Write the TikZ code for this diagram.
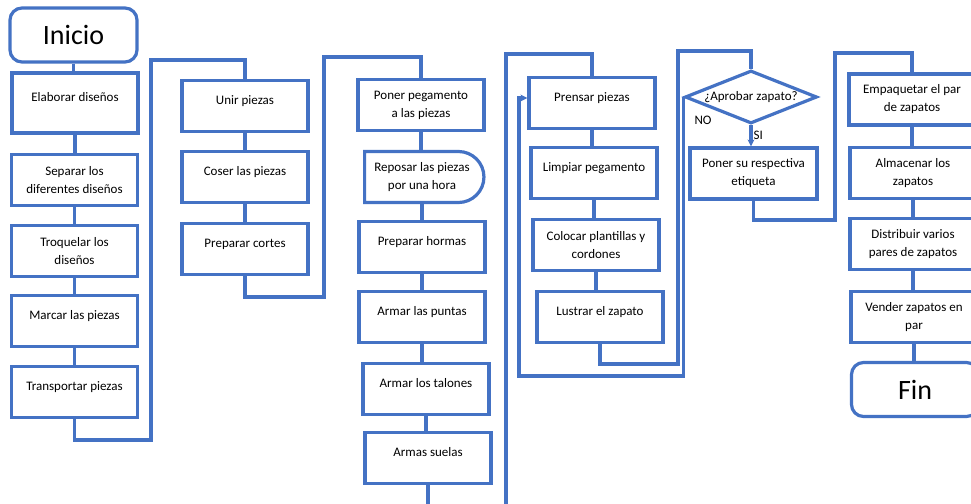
\documentclass[tikz,border=0pt]{standalone}
\usepackage{fontspec}
\setmainfont{Carlito}
\usepackage{xcolor}
\usepackage{tikz}
\usetikzlibrary{shapes,arrows.meta,positioning,calc}

\definecolor{lineblue}{RGB}{68,114,196}

\begin{document}
\begin{tikzpicture}[x=1pt, y=-1pt,
    box/.style={draw=lineblue, line width=3.2pt, fill=white, minimum width=126pt, minimum height=51pt, align=center, font=\fontsize{13}{18}\selectfont},
    oneline/.style={text depth=12pt},
    term/.style={box, rounded corners=12pt, minimum width=127pt, minimum height=54pt, font=\fontsize{28}{30}\selectfont},
    delay/.style={box, rounded rectangle, rounded rectangle left arc=none},
    decision/.style={draw=lineblue, line width=3.2pt, fill=white, diamond, aspect=2.5, inner sep=0pt, minimum width=132pt, minimum height=53pt, font=\fontsize{13}{15}\selectfont},
    lbl/.style={inner sep=1pt, font=\fontsize{13}{15}\selectfont},
    link/.style={draw=lineblue, line width=3.2pt},
    arrow/.style={link, -{Stealth[length=7pt,width=7pt]}}
]
    \useasboundingbox[fill=white] (0,0) rectangle (971,503);

    % Column 1
    \node[term] (ini) at (73.5,35) {Inicio};
    \node[box, oneline, minimum height=60pt] (e1) at (75,103) {Elaborar diseños};
    \node[box] (e2) at (74.5,180) {Separar los\\diferentes diseños};
    \node[box] (e3) at (74.5,251) {Troquelar los\\diseños};
    \node[box, oneline] (e4) at (74.5,321) {Marcar las piezas};
    \node[box, oneline] (e5) at (74.5,392) {Transportar piezas};

    % Column 2
    \node[box, oneline] (u1) at (245,106) {Unir piezas};
    \node[box, oneline] (u2) at (245,177) {Coser las piezas};
    \node[box, oneline] (u3) at (245,249) {Preparar cortes};

    % Column 3
    \node[box] (p1) at (421,105) {Poner pegamento\\a las piezas};
    \node[delay] (p2) at (422,177) {Reposar las piezas\\por una hora};
    \node[box, oneline] (p3) at (422,247) {Preparar hormas};
    \node[box, oneline] (p4) at (422,317) {Armar las puntas};
    \node[box, oneline] (p5) at (426,389) {Armar los talones};
    \node[box, oneline] (p6) at (428,458) {Armas suelas};

    % Column 4
    \node[box, oneline] (q1) at (592,103) {Prensar piezas};
    \node[box, oneline] (q2) at (594,173) {Limpiar pegamento};
    \node[box] (q3) at (596,245) {Colocar plantillas y\\cordones};
    \node[box, oneline] (q4) at (600,317) {Lustrar el zapato};

    % Column 5 (decision)
    \node[decision] (d) at (751,97) {¿Aprobar zapato?};
    \node[box, minimum width=127pt] (et) at (753.5,173.5) {Poner su respectiva\\etiqueta};
    \node[lbl] (no) at (703,120) {NO};

    % Column 6
    \node[box] (z1) at (912,99.5) {Empaquetar el par\\de zapatos};
    \node[box] (z2) at (913,173) {Almacenar los\\zapatos};
    \node[box] (z3) at (913,244) {Distribuir varios\\pares de zapatos};
    \node[box] (z4) at (914,317) {Vender zapatos en\\par};
    \node[term] (fin) at (915,389.5) {Fin};

    % Links inside each column
    \foreach \a/\b in {ini/e1, e1/e2, e2/e3, e3/e4, e4/e5, u1/u2, u2/u3, p1/p2, p2/p3, p3/p4, p4/p5, p5/p6, q1/q2, q2/q3, q3/q4, z1/z2, z2/z3, z3/z4, z4/fin}
        \draw[link] (\a.south) -- (\a.south |- \b.north);

    % Jumps between columns
    \draw[link] (e5.south) |- (151,440) -- (151,60) -| (u1.north);
    \draw[link] (u3.south) |- (324,297) -- (324,57) -| (p1.north);
    \draw[link] (p6.south) |- (506,510) -- (506,54) -| (q1.north);
    \draw[link] (q4.south) |- (678,364) -- (678,51) -| (d.north);
    \draw[link] (et.south) |- (835,220) -- (835,53) -| (z1.north);

    % Decision outputs
    \draw[arrow] (d.south) -- node[lbl, right] {SI} (d.south |- et.north);
    \draw[arrow] (d.west) |- (519,376) |- ([yshift=5pt]q1.west);
\end{tikzpicture}
\end{document}
